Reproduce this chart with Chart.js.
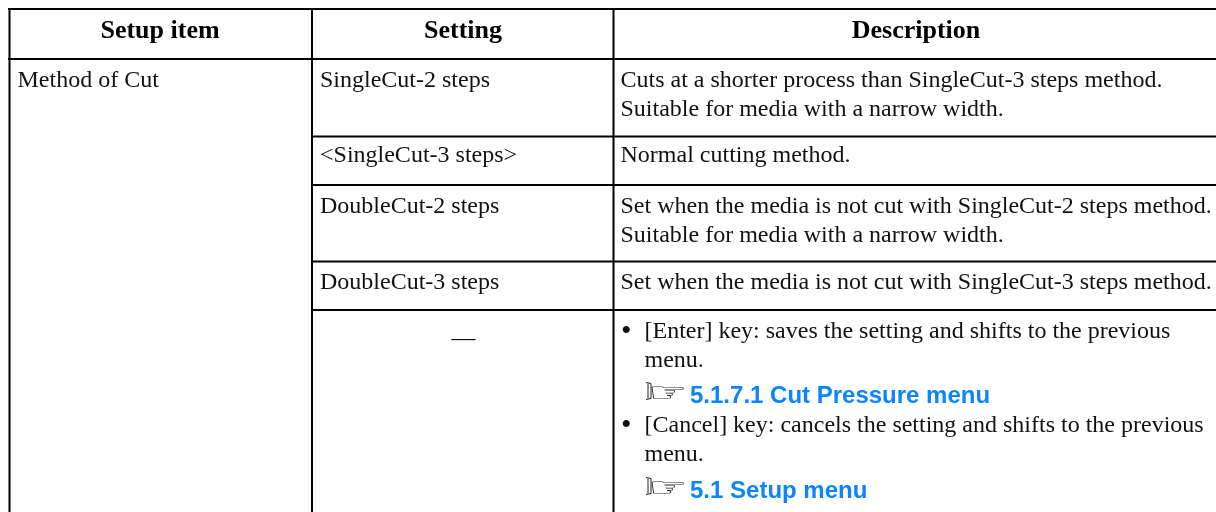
<!DOCTYPE html>
<html lang="en">
<head>
  <meta charset="UTF-8">
  <title>Method of Cut</title>
  <script src="https://cdn.jsdelivr.net/npm/chart.js"></script>
  <style>
    html, body { margin: 0; padding: 0; background: #fff; }
    canvas { display: block; }
  </style>
</head>
<body>
  <canvas id="table" width="1216" height="512"></canvas>
  <script>
    // Table content
    const headers = ['Setup item', 'Setting', 'Description'];
    const setupItems = ['Method of Cut'];
    const settings = ['SingleCut-2 steps', '<SingleCut-3 steps>', 'DoubleCut-2 steps', 'DoubleCut-3 steps', '\u2014'];
    const descriptions = [
      'Cuts at a shorter process than SingleCut-3 steps method.',
      'Suitable for media with a narrow width.',
      'Normal cutting method.',
      'Set when the media is not cut with SingleCut-2 steps method.',
      'Suitable for media with a narrow width.',
      'Set when the media is not cut with SingleCut-3 steps method.'
    ];
    const bulletLines = [
      '[Enter] key: saves the setting and shifts to the previous',
      'menu.',
      '[Cancel] key: cancels the setting and shifts to the previous',
      'menu.'
    ];
    const links = ['5.1.7.1 Cut Pressure menu', '5.1 Setup menu'];

    // Rule positions on the table's axes
    const columnEdges = [9.5, 312, 613.5];
    const rowEdges = [9, 59, 136.5, 185, 261.5, 310];
    const tableRight = 1216;
    const tableBottom = 512;

    // Text baselines on the y axis
    const headerY = 38;
    const settingY = [87, 162, 213, 289, 345];
    const descriptionY = [87, 115.5, 162, 212.5, 241.5, 289];
    const bulletY = [338, 367, 432, 461];
    const linkY = [402.5, 497.5];

    const rule = (x1, y1, x2, y2) => ({
      data: [{ x: x1, y: y1 }, { x: x2, y: y2 }],
      borderColor: '#000',
      borderWidth: 2,
      pointRadius: 0,
      showLine: true
    });

    const rules = [];
    rowEdges.forEach((y, i) => {
      rules.push(rule(i < 2 ? 8 : columnEdges[1], y, tableRight, y));
    });
    columnEdges.forEach(x => rules.push(rule(x, rowEdges[0], x, tableBottom)));

    const tableText = {
      id: 'tableText',
      afterDatasetsDraw(chart) {
        const { ctx, scales: { x, y } } = chart;
        const put = (text, vx, vy, font, color, align) => {
          ctx.font = font;
          ctx.fillStyle = color || '#111';
          ctx.textAlign = align || 'left';
          ctx.textBaseline = 'alphabetic';
          ctx.fillText(text, x.getPixelForValue(vx), y.getPixelForValue(vy));
        };
        const body = '24px "Liberation Serif"';
        const head = 'bold 26px "Liberation Serif"';
        const link = 'bold 24px "Liberation Sans"';

        ctx.save();
        const headerCentres = [160, 463, 916];
        headers.forEach((h, i) => put(h, headerCentres[i], headerY, head, '#000', 'center'));
        put(setupItems[0], 17.5, settingY[0], body);
        settings.forEach((s, i) => {
          if (s === '\u2014') put(s, 463.5, settingY[i], body, '#111', 'center');
          else put(s, 320, settingY[i], body);
        });
        descriptions.forEach((d, i) => put(d, 620.5, descriptionY[i], body));
        bulletLines.forEach((b, i) => {
          put(b, 644.5, bulletY[i], body);
          if (i % 2 === 0) put('\u2022', 621, bulletY[i] + 2, '30px "Liberation Serif"');
        });
        links.forEach((l, i) => {
          const px = x.getPixelForValue(651);
          const py = y.getPixelForValue(linkY[i]);
          // pointing hand: glyph stretched to the icon's width, with a cuff in front
          ctx.save();
          ctx.translate(px, py);
          ctx.save();
          ctx.scale(1.65, 0.95);
          ctx.font = '27px "DejaVu Sans"';
          ctx.fillStyle = '#222';
          ctx.textAlign = 'left';
          ctx.fillText('\u261E', -2, -2);
          ctx.restore();
          ctx.strokeStyle = '#222';
          ctx.lineWidth = 1;
          ctx.beginPath();
          ctx.moveTo(-5, -20); ctx.lineTo(0, -19); ctx.lineTo(0, -4); ctx.lineTo(-5, -3);
          ctx.moveTo(-3, -19); ctx.lineTo(-3, -4);
          ctx.stroke();
          ctx.restore();
          put(l, 690, linkY[i], link, '#0a84ff');
        });
        ctx.restore();
      }
    };

    new Chart(document.getElementById('table'), {
      type: 'scatter',
      data: { datasets: rules },
      plugins: [tableText],
      options: {
        responsive: false,
        animation: false,
        layout: { padding: 0 },
        plugins: { legend: { display: false }, tooltip: { enabled: false } },
        scales: {
          x: { type: 'linear', min: 0, max: tableRight, display: false },
          y: { type: 'linear', min: 0, max: tableBottom, reverse: true, display: false }
        }
      }
    });
  </script>
</body>
</html>
